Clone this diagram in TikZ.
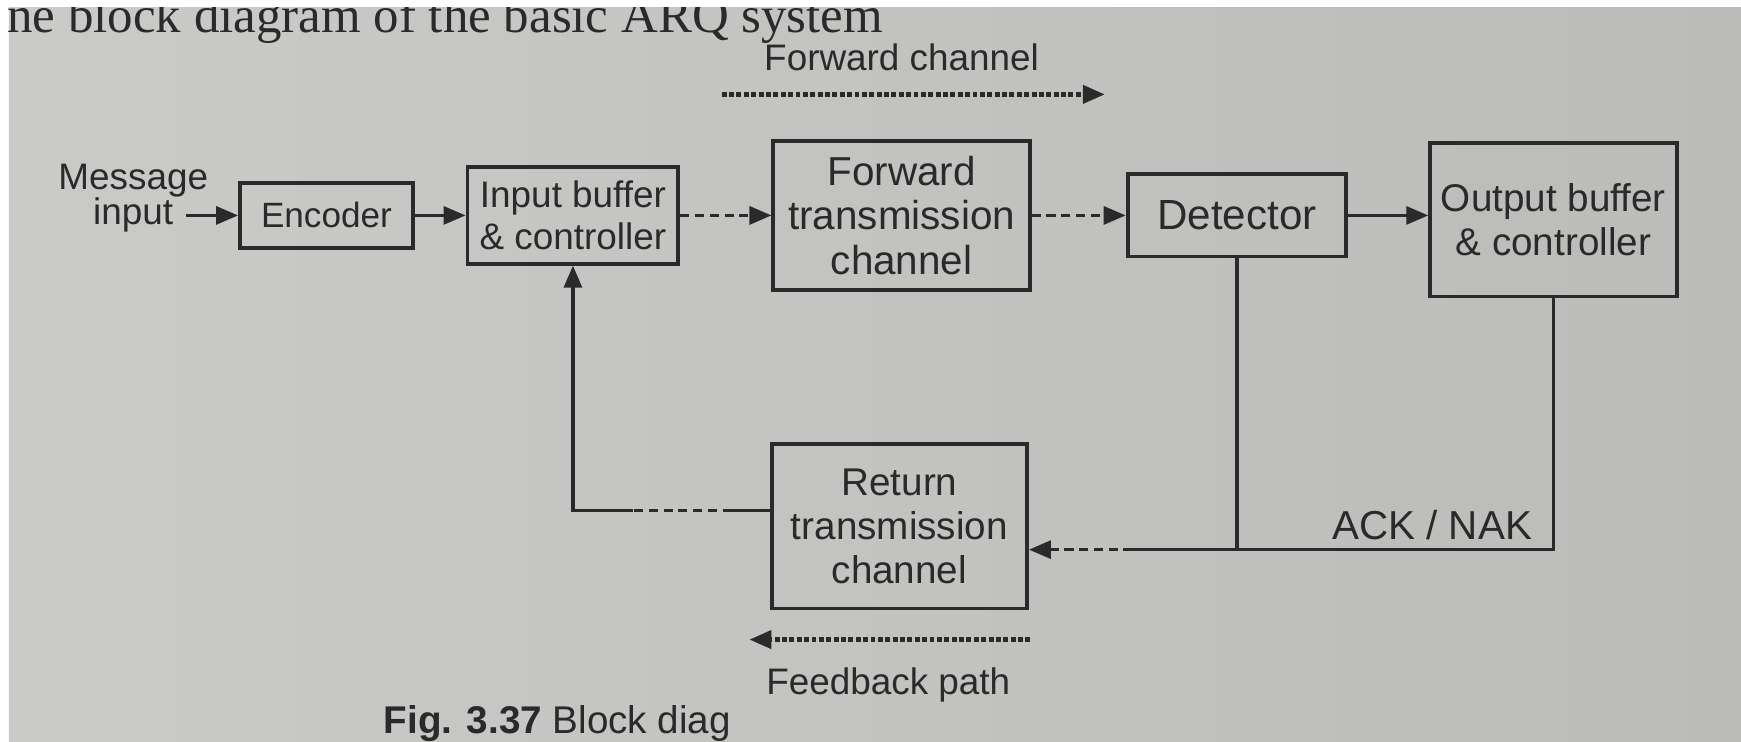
\documentclass[tikz,border=0pt]{standalone}
\usepackage{fontspec}
\setmainfont{Liberation Serif}
\setsansfont{Liberation Sans}
\usetikzlibrary{positioning, arrows.meta, calc}
\definecolor{paper}{HTML}{CACAC8}
\definecolor{paperd}{HTML}{BBBBB9}
\definecolor{ink}{HTML}{2A2A2A}

\begin{document}
\begin{tikzpicture}[x=0.011104cm, y=-0.011104cm,
    block/.style={rectangle, draw=ink, line width=1.1pt, align=center, inner sep=2pt, text=ink, font=\sffamily\fontsize{10}{11.4}\selectfont},
    arr/.style={-{Triangle[length=2.2mm, width=1.8mm]}, line width=0.9pt, draw=ink},
    line/.style={line width=0.9pt, draw=ink},
    dsh/.style={dash pattern=on 2.6pt off 1.6pt},
    dots/.style={dash pattern=on 1.4pt off 0.7pt, line width=1.2pt},
    lbl/.style={font=\sffamily\fontsize{10.5}{12.5}\selectfont, text=ink, align=center},
  ]
    \useasboundingbox (0,0) rectangle (1568,668);
    \fill[white] (0,0) rectangle (1568,668);
    \shade[left color=paper, right color=paperd] (8,7) rectangle (1568,668);

    % cut-off line of the page above
    \begin{scope}
      \clip (8,7) rectangle (1568,668);
      \node[anchor=base west, inner sep=0pt, text=ink, font=\rmfamily\fontsize{14.5}{17}\selectfont] (pagetxt) at (6,29) {ne block diagram of the basic ARQ system};
    \end{scope}

    % forward path
    \node[lbl] (inp) at (120,194) {input};
    \node[lbl, above=-0.24cm of inp] (msg) {Message};
    \node[block, minimum width=1.73cm, minimum height=0.655cm] (enc) at (294,194) {Encoder};
    \node[block, minimum width=2.11cm, minimum height=0.966cm, font=\sffamily\fontsize{10.5}{11.8}\selectfont] (inb) at (516,194) {Input buffer\\\& controller};
    \node[block, minimum width=2.565cm, minimum height=1.488cm, font=\sffamily\fontsize{11.5}{12.6}\selectfont] (fwd) at (812,194) {Forward\\transmission\\channel};
    \node[block, minimum width=2.187cm, minimum height=0.822cm, font=\sffamily\fontsize{12}{14}\selectfont] (det) at (1114,194) {Detector};
    \node[block, minimum width=2.465cm, minimum height=1.532cm, font=\sffamily\fontsize{11}{12.6}\selectfont] (out) at (1399,198) {Output buffer\\\& controller};

    % return path
    \node[block, minimum width=2.554cm, minimum height=1.643cm, font=\sffamily\fontsize{11}{12.6}\selectfont] (ret) at (810,474) {Return\\transmission\\channel};

    \draw[arr] (inp) -- (enc);
    \draw[arr] (enc) -- (inb);
    \draw[arr, dsh] (inb) -- (fwd);
    \draw[arr, dsh] (fwd) -- (det);
    \draw[arr] (det) -- (out.west |- det);

    \coordinate (jn) at (det.south |- 0,495);
    \coordinate (oc) at (out.south |- 0,495);
    \coordinate (js) at (1020,495);
    \draw[line] (det.south) -- (jn);
    \draw[line] (out.south) -- (oc) -- (jn) -- (js);
    \draw[arr, dsh] (js) -- (ret.east |- js);
    \node[lbl, anchor=south east, font=\sffamily\fontsize{11.5}{13}\selectfont] (ack) at ($(oc)+(-8,2)$) {ACK / NAK};

    \coordinate (rw) at (ret.west |- 0,460);
    \coordinate (r1) at (659,460);
    \coordinate (r2) at (570,460);
    \draw[line] (rw) -- (r1);
    \draw[line, dsh] (r1) -- (r2);
    \draw[arr] (r2) -| (inb.south);

    % direction labels
    \node[lbl] (fwdlbl) at (812,52) {Forward channel};
    \coordinate (fa) at (650,85);
    \coordinate (fb) at (995,85);
    \draw[arr, dots] (fa) -- (fb);

    \coordinate (fc) at (928,576);
    \coordinate (fd) at (675,576);
    \draw[arr, dots] (fc) -- (fd);
    \node[lbl] (fblbl) at (800,617) {Feedback path};

    \node[anchor=base west, inner sep=0pt, text=ink, font=\sffamily\fontsize{11}{13}\selectfont] (cap) at (345,661) {\textbf{Fig. 3.37} Block diag};
  \end{tikzpicture}
\end{document}
